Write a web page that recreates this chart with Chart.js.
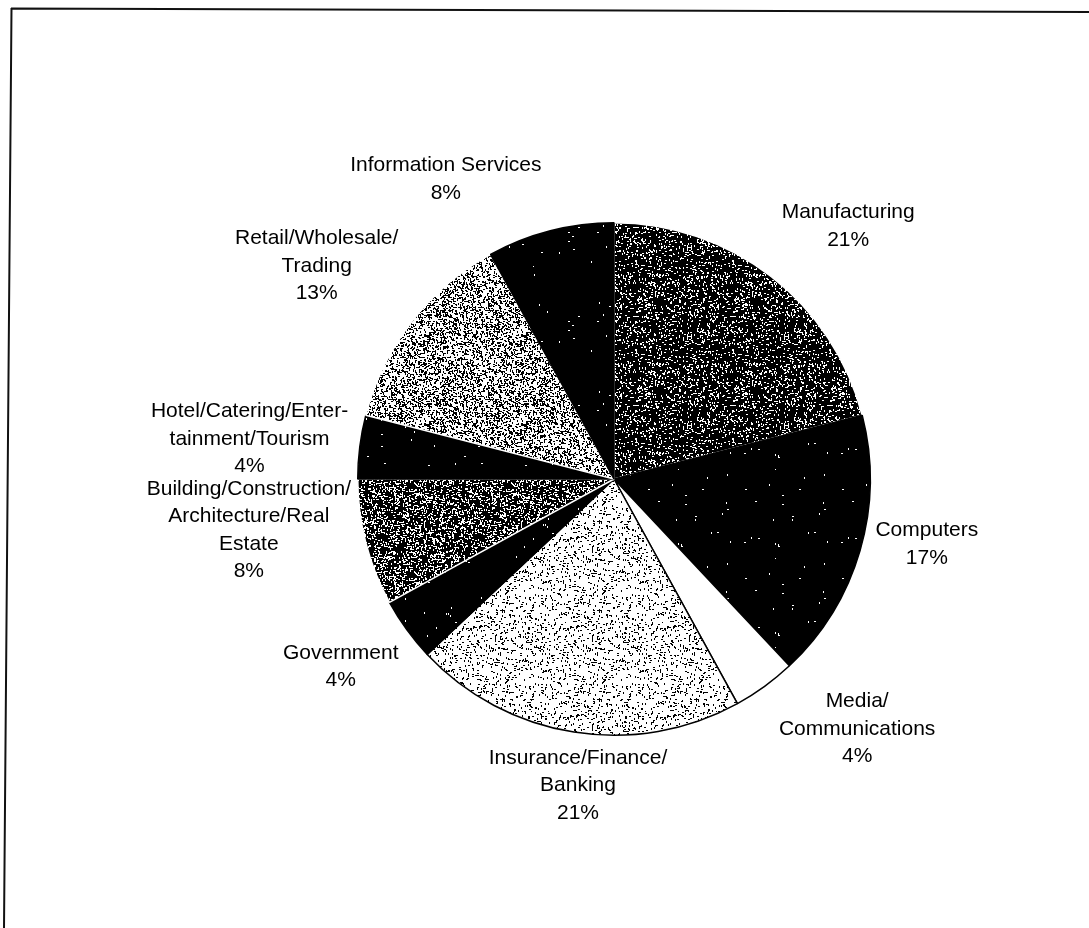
<!DOCTYPE html>
<html>
<head>
<meta charset="utf-8">
<script src="https://cdn.jsdelivr.net/npm/chart.js@4"></script>
<style>
    html, body { margin: 0; padding: 0; background: #fff; }
    #chart_sectores { display: block; }
</style>
</head>
<body>
<canvas id="chart_sectores" width="1089" height="928"></canvas>
<script>
// Sectors, clockwise from the top
const sectores = [
    ['Manufacturing'],
    ['Computers'],
    ['Media/', 'Communications'],
    ['Insurance/Finance/', 'Banking'],
    ['Government'],
    ['Building/Construction/', 'Architecture/Real', 'Estate'],
    ['Hotel/Catering/Enter-', 'tainment/Tourism'],
    ['Retail/Wholesale/', 'Trading'],
    ['Information Services']
];
const porcentajes = [21, 17, 4, 21, 4, 8, 4, 13, 8];

// Label placement around the pie: angle nudge (deg) from the slice middle, distance in radii
const labelShift = [5.0, -4.4, -8.2, -2.3, 1.5, 6.4, -0.9, -2.2, -14.9];
const labelDist = [1.345, 1.247, 1.361, 1.204, 1.294, 1.439, 1.431, 1.427, 1.341];

// Scanned-halftone look: fg specks over bg, density = share of fg pixels
function trama(bg, fg, density, seed) {
    const c = document.createElement('canvas');
    c.width = 97;
    c.height = 89;
    const g = c.getContext('2d');
    g.fillStyle = bg;
    g.fillRect(0, 0, c.width, c.height);
    g.fillStyle = fg;
    for (let y = 0; y < c.height; y++) {
        for (let x = 0; x < c.width; x++) {
            let h = (x * 374761393 + y * 668265263 + seed * 2147483647) | 0;
            h = Math.imul(h ^ (h >>> 13), 1274126177);
            h = (h ^ (h >>> 16)) >>> 0;
            if (h / 4294967296 < density) {
                // short horizontal/vertical dashes like the scan
                if (h & 1) g.fillRect(x, y, 2, 1);
                else g.fillRect(x, y, 1, 2);
            }
        }
    }
    return g.createPattern(c, 'repeat');
}

const rellenos = [
    trama('#000', '#fff', 0.10, 1),   // Manufacturing
    trama('#000', '#fff', 0.003, 2),  // Computers
    '#fff',                           // Media
    trama('#fff', '#000', 0.07, 3),   // Insurance
    trama('#000', '#fff', 0.003, 4),  // Government
    trama('#000', '#fff', 0.16, 5),   // Building
    trama('#000', '#fff', 0.003, 6),  // Hotel
    trama('#fff', '#000', 0.22, 7),   // Retail
    trama('#000', '#fff', 0.003, 8)   // Information Services
];
const bordes = ['#fff', '#000', '#000', '#000', '#000', '#fff', '#000', '#fff', '#000'];

const etiquetasPlugin = {
    id: 'etiquetas',
    afterDatasetsDraw(chart) {
        const ctx = chart.ctx;
        const meta = chart.getDatasetMeta(0);
        ctx.save();
        ctx.font = '21px "Liberation Sans", Arial, sans-serif';
        ctx.fillStyle = '#000';
        ctx.textAlign = 'center';
        ctx.textBaseline = 'middle';
        const lh = 27.5;
        meta.data.forEach((arc, i) => {
            const p = arc.getProps(['x', 'y', 'startAngle', 'endAngle', 'outerRadius'], true);
            const ang = (p.startAngle + p.endAngle) / 2 + labelShift[i] * Math.PI / 180;
            const cx = p.x + Math.cos(ang) * p.outerRadius * labelDist[i];
            const cy = p.y + Math.sin(ang) * p.outerRadius * labelDist[i];
            const lineas = sectores[i].concat([porcentajes[i] + '%']);
            const y0 = cy - (lineas.length - 1) * lh / 2;
            lineas.forEach((t, k) => ctx.fillText(t, cx, y0 + k * lh));
        });
        ctx.restore();
    }
};

// Page frame, slightly skewed like the printed sheet
const marcoPlugin = {
    id: 'marco',
    beforeDraw(chart) {
        const ctx = chart.ctx;
        ctx.save();
        ctx.strokeStyle = '#111';
        ctx.lineWidth = 2;
        ctx.beginPath();
        ctx.moveTo(11, 8.5);
        ctx.lineTo(1089, 12);
        ctx.moveTo(11.5, 8);
        ctx.lineTo(4, 928);
        ctx.stroke();
        ctx.restore();
    }
};

const ctx = document.getElementById('chart_sectores').getContext('2d');
new Chart(ctx, {
    type: 'pie',
    data: {
        labels: sectores.map(s => s.join(' ')),
        datasets: [{
            data: porcentajes,
            backgroundColor: rellenos,
            borderColor: bordes,
            borderWidth: 1.5
        }]
    },
    options: {
        responsive: false,
        animation: false,
        layout: {
            padding: { left: 357, right: 218, top: 222, bottom: 192 }
        },
        plugins: {
            legend: { display: false },
            tooltip: { enabled: false }
        }
    },
    plugins: [marcoPlugin, etiquetasPlugin]
});
</script>
</body>
</html>
